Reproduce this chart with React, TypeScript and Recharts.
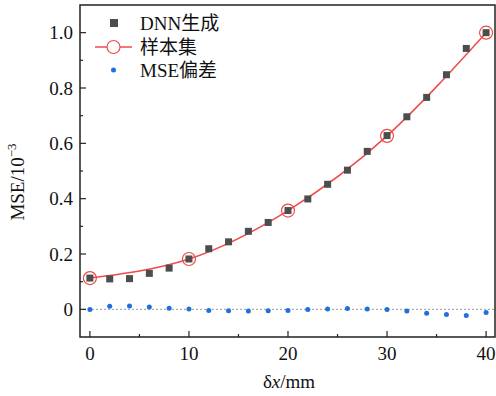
import React from "react";
import {
  ComposedChart,
  Line,
  Scatter,
  XAxis,
  YAxis,
  ReferenceLine,
  ReferenceArea,
} from "recharts";

const SERIF = "'Liberation Serif', 'Times New Roman', Times, serif";
const HAN = "'Noto Sans CJK SC', sans-serif";
const DNN = "#4d4d4d";
const SAMPLE = "#f04a4a";
const BIAS = "#1f6fe0";

const xs = [0, 2, 4, 6, 8, 10, 12, 14, 16, 18, 20, 22, 24, 26, 28, 30, 32, 34, 36, 38, 40];
const dnnMse = [
  0.113, 0.11, 0.111, 0.13, 0.149, 0.182, 0.219, 0.244, 0.282, 0.314, 0.357,
  0.399, 0.452, 0.503, 0.571, 0.628, 0.696, 0.766, 0.848, 0.943, 1.0,
];
const biasMse = [
  -0.001, 0.011, 0.012, 0.008, 0.004, 0.001, -0.004, -0.005, -0.006, -0.005, -0.004,
  -0.001, 0.001, 0.003, 0.001, -0.001, -0.006, -0.014, -0.019, -0.022, -0.011,
];
const sampleX = [0, 10, 20, 30, 40];
const sampleMse = [0.113, 0.182, 0.357, 0.627, 1.0];

const xTicks = [0, 5, 10, 15, 20, 25, 30, 35, 40];
const yTicks = [0, 0.1, 0.2, 0.3, 0.4, 0.5, 0.6, 0.7, 0.8, 0.9, 1.0];

const dnnData = xs.map((x, i) => ({ x, y: dnnMse[i] }));
const biasData = xs.map((x, i) => ({ x, y: biasMse[i] }));
const sampleData = sampleX.map((x, i) => ({ x, y: sampleMse[i] }));

function XTick(props: any) {
  const { x, y, payload } = props;
  const major = payload.value % 10 === 0;
  return (
    <g>
      <line x1={x} x2={x} y1={y} y2={y - (major ? 6 : 3)} stroke="#222" strokeWidth={1.2} />
      {major && (
        <text x={x} y={y + 22.5} textAnchor="middle" fontSize={19} fontFamily={SERIF} fill="#111">
          {payload.value}
        </text>
      )}
    </g>
  );
}

function YTick(props: any) {
  const { x, y, payload } = props;
  const v = payload.value;
  const major = Math.round(v * 10) % 2 === 0;
  return (
    <g>
      <line x1={x} x2={x + (major ? 6 : 3)} y1={y} y2={y} stroke="#222" strokeWidth={1.2} />
      {major && (
        <text x={x - 7} y={y + 6.5} textAnchor="end" fontSize={19} fontFamily={SERIF} fill="#111">
          {v === 0 ? "0" : v.toFixed(1)}
        </text>
      )}
    </g>
  );
}

function Square(props: any) {
  const { cx, cy } = props;
  return <rect x={cx - 3.5} y={cy - 3.5} width={7} height={7} fill={DNN} />;
}

function Dot(props: any) {
  const { cx, cy } = props;
  return <circle cx={cx} cy={cy} r={2.5} fill={BIAS} />;
}

function Ring(props: any) {
  const { cx, cy, index } = props;
  return <circle key={index} cx={cx} cy={cy} r={6.5} fill="none" stroke={SAMPLE} strokeWidth={1.2} />;
}

export default function App() {
  return (
    <div style={{ position: "absolute", left: 0, top: 0, background: "#fff" }}>
      <ComposedChart
        width={496}
        height={396}
        margin={{ top: 5, right: 1, bottom: 29, left: 0 }}
        style={{ fontFamily: SERIF }}
      >
        <XAxis
          type="number"
          dataKey="x"
          domain={[-1, 40.9]}
          allowDataOverflow
          ticks={xTicks}
          interval={0}
          tickSize={0}
          tickMargin={0}
          tick={<XTick />}
          axisLine={false}
          tickLine={false}
          height={30}
        />
        <YAxis
          type="number"
          dataKey="y"
          domain={[-0.1, 1.1]}
          allowDataOverflow
          ticks={yTicks}
          interval={0}
          tickSize={0}
          tickMargin={0}
          tick={<YTick />}
          axisLine={false}
          tickLine={false}
          width={80}
        />
        <ReferenceLine y={0} stroke="#999" strokeDasharray="2 2" strokeWidth={1} />
        <Scatter data={dnnData} dataKey="y" shape={<Square />} isAnimationActive={false} />
        <Line
          data={sampleData}
          dataKey="y"
          type="natural"
          stroke={SAMPLE}
          strokeWidth={1.5}
          dot={<Ring />}
          activeDot={false}
          isAnimationActive={false}
        />
        <Scatter data={biasData} dataKey="y" shape={<Dot />} isAnimationActive={false} />
        <ReferenceArea x1={-1} x2={40.9} y1={-0.1} y2={1.1} fill="none" stroke="#222" strokeWidth={1.5} />

        {/* legend */}
        <rect x={110} y={19} width={8} height={8} fill={DNN} />
        <text x={140} y={30} fontSize={19} fill="#111">
          <tspan fontFamily={SERIF}>DNN</tspan>
          <tspan fontFamily={HAN}>生成</tspan>
        </text>
        <line x1={95} x2={132} y1={47} y2={47} stroke={SAMPLE} strokeWidth={1.5} />
        <circle cx={113.5} cy={47} r={6.5} fill="#fff" stroke={SAMPLE} strokeWidth={1.2} />
        <text x={140} y={54} fontSize={19} fontFamily={HAN} fill="#111">样本集</text>
        <circle cx={113.5} cy={70} r={2.5} fill={BIAS} />
        <text x={140} y={77} fontSize={19} fill="#111">
          <tspan fontFamily={SERIF}>MSE</tspan>
          <tspan fontFamily={HAN}>偏差</tspan>
        </text>

        {/* axis titles */}
        <text x={289} y={388} textAnchor="middle" fontSize={19} fontFamily={SERIF} fill="#111">
          <tspan>δ</tspan>
          <tspan fontStyle="italic">x</tspan>
          <tspan>/mm</tspan>
        </text>
        <text
          transform="translate(24,182) rotate(-90)"
          textAnchor="middle"
          fontSize={19}
          fontFamily={SERIF}
          fill="#111"
        >
          MSE/10<tspan fontSize={13} dy={-8}>−3</tspan>
        </text>
      </ComposedChart>
    </div>
  );
}
